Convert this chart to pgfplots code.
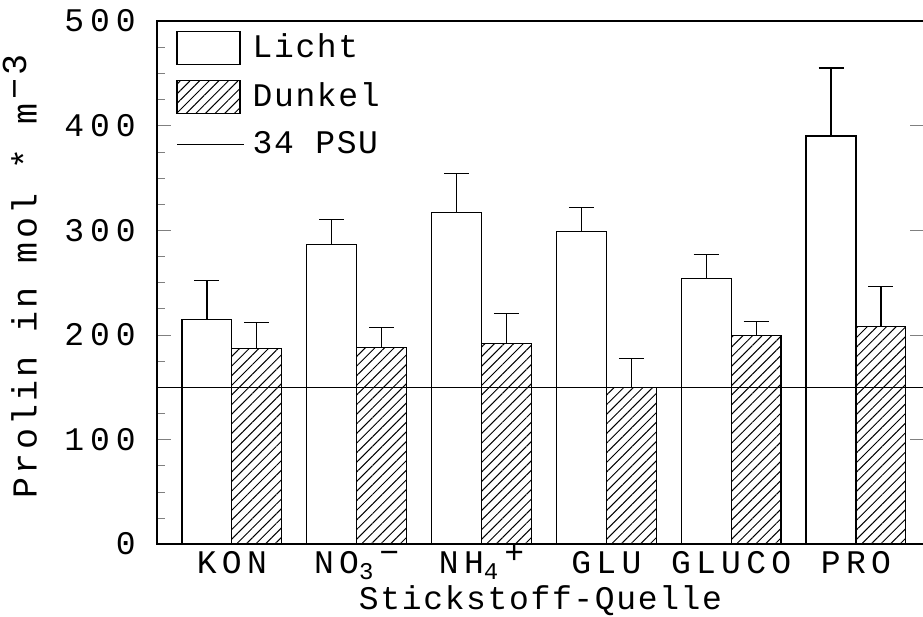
\documentclass[border=0pt]{standalone}
\usepackage{pgfplots}
\pgfplotsset{compat=1.18}
\usepackage{fontspec}
\setmainfont{Liberation Mono}
\newfontfamily\tickfont[LetterSpace=16]{Liberation Mono}
\newfontfamily\ytickfont[LetterSpace=18]{Liberation Mono}
\newfontfamily\labfont[LetterSpace=5]{Liberation Mono}
\newfontfamily\ylabfont[LetterSpace=9]{Liberation Mono}
\usetikzlibrary{patterns.meta}

\newcommand{\lo}[1]{\raisebox{-0.2em}{\fontsize{12}{12}\selectfont #1}}
\newcommand{\hi}[1]{\raisebox{0.3em}{#1}}

\begin{document}
\fontsize{16.5}{18}\selectfont
\begin{tikzpicture}
\begin{axis}[
  scale only axis,
  width=383.5pt, height=261.5pt,
  xmin=-0.6, xmax=5.545,
  ymin=0, ymax=500,
  ybar, bar width=0.4,
  xtick={0,1,2,3,4,5},
  xticklabels={KON, NO\lo{3}\hspace{3pt}\hi{−}, NH\lo{4}\hspace{3pt}\hi{+}, GLU, GLUCO, PRO},
  xtick style={draw=none},
  xticklabel style={anchor=base, yshift=-14.5pt, font=\tickfont},
  ytick={0,100,...,500},
  minor y tick num=3,
  ytick pos=left,
  tick align=inside,
  major tick length=7pt,
  minor tick length=4pt,
  yticklabel style={font=\ytickfont, anchor=east, xshift=-5pt},
  /pgf/number format/assume math mode=true,
  axis line style={line width=0.6pt},
  xlabel={Stickstoff-Quelle},
  xlabel style={at={(axis description cs:0.5,0)}, anchor=base, yshift=-32.5pt, font=\labfont},
  ylabel={Prolin in mol * m\hspace{2pt}\hi{−3}},
  ylabel style={at={(axis description cs:-0.157,0.512)}, anchor=base, font=\fontsize{17.5}{18}\ylabfont},
  legend style={at={(axis description cs:0.017,0.992)}, anchor=north west,
    draw=none, fill=none, row sep=6pt, column sep=2pt,
    cells={anchor=west}, font=\labfont},
  legend image code/.code={\draw[#1, line width=0.6pt, bar shift=0pt] (0pt,-8.25pt) rectangle (31.5pt,8.25pt);},
  error bars/y dir=plus,
  error bars/y explicit,
  error bars/error bar style={line width=0.6pt},
  error bars/error mark options={rotate=90, mark size=6.25pt, line width=0.6pt},
]
\addplot[draw=black, fill=white, line width=0.6pt, bar shift=-0.2]
  coordinates {
(0,215) +- (0,37)
(1,286) +- (0,24)
(2,317) +- (0,37)
(3,299) +- (0,23)
(4,254) +- (0,23)
(5,390) +- (0,65)
  };
\addlegendentry{Licht}
\addplot[draw=black, line width=0.6pt, bar shift=0.2,
  pattern={Lines[angle=45, distance=3.4pt, line width=0.5pt]}]
  coordinates {
(0,187) +- (0,25)
(1,188) +- (0,19)
(2,192) +- (0,28)
(3,150) +- (0,27)
(4,199) +- (0,14)
(5,208) +- (0,38)
  };
\addlegendentry{Dunkel}
\addplot[sharp plot, black, line width=0.6pt, error bars/y dir=none,
  legend image code/.code={\draw[black, line width=0.6pt] (0pt,0pt) -- (33.5pt,0pt);}]
  coordinates {(-0.6,150) (5.545,150)};
\addlegendentry{34 PSU}
\end{axis}
\begin{axis}[
  scale only axis,
  width=383.5pt, height=261.5pt,
  xmin=-0.6, xmax=5.545,
  ymin=0, ymax=500,
  axis x line=none,
  axis y line*=right,
  ytick={100,200,300,400},
  yticklabels={},
  tick align=inside,
  major tick length=7pt,
  axis line style={line width=0.6pt},
]
\end{axis}
\pgfresetboundingbox
\path (-78.5pt,-36.5pt) rectangle (383pt,272pt);
\end{tikzpicture}
\end{document}
